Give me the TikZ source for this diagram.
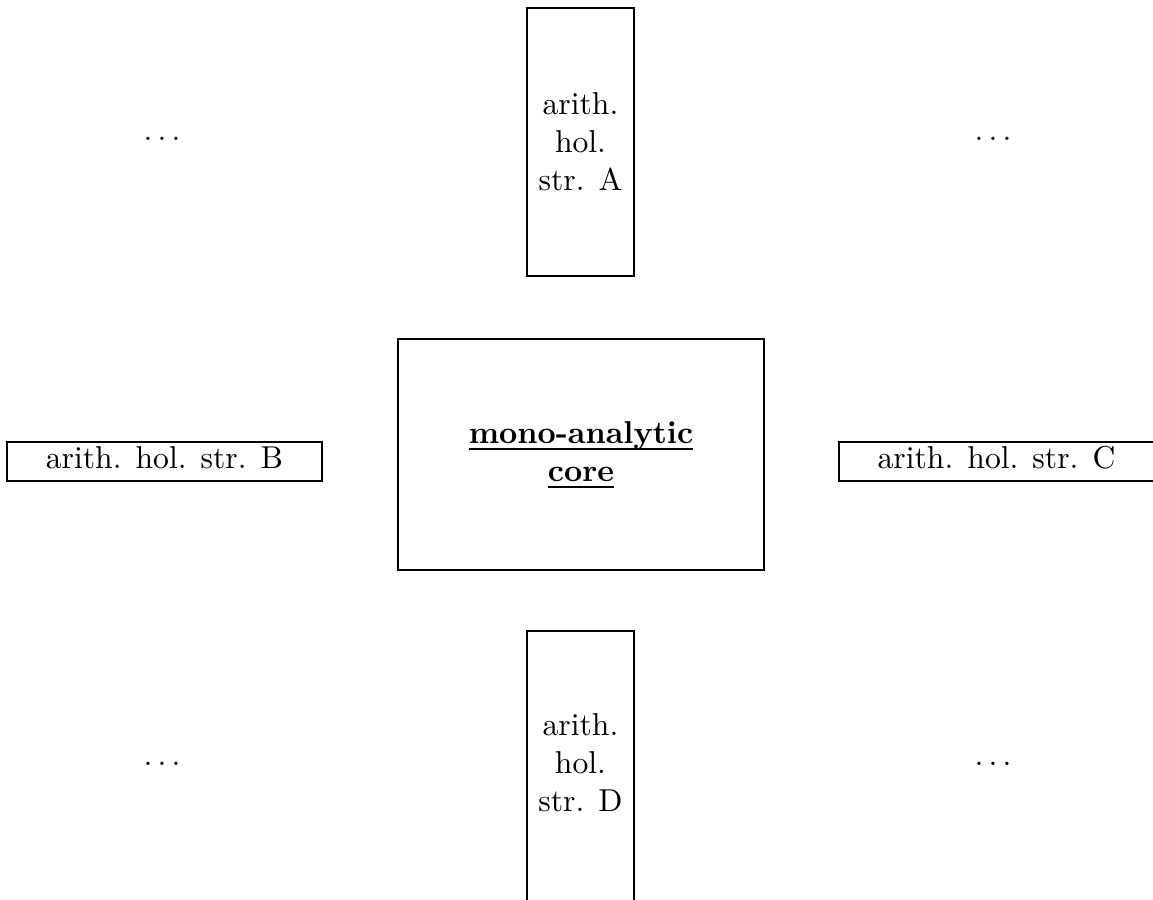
\documentclass[tikz,border=0pt]{standalone}
\newcommand\myuline[1]{\leavevmode\setbox0=\hbox{#1}\rlap{\rule[-2.05pt]{\wd0}{0.55pt}}\box0}
\begin{document}
\begin{tikzpicture}[x=0.316pt,y=-0.316pt,
  box/.style={draw, line width=0.4pt, inner sep=0pt, align=center},
  vbox/.style={box, minimum width=33.8pt, minimum height=84.7pt},
  hbox/.style={box, minimum width=99.5pt, minimum height=12.3pt, text height=7pt, text depth=2.7pt},
  dotsn/.style={anchor=base, inner sep=0pt}]
\useasboundingbox (0,0) rectangle (1153,900);
\clip (0,0) rectangle (1153,900);
\node[vbox] (A) at (580.5,142) {arith.\\hol.\\str. A};
\node[vbox, minimum height=86pt, text depth=2.6pt] (D) at (580.5,767) {arith.\\hol.\\str. D};
\node[hbox] (B) at (164.5,461.5) {arith. hol. str. B};
\node[hbox] (C) at (996.5,461.5) {arith. hol. str. C};
\node[box, minimum width=115.7pt, minimum height=73pt] (M) at (581,454.5)
  {\myuline{\textbf{mono-analytic}}\\\myuline{\textbf{core}}};
\node[dotsn] (d1) at (162,141) {$\ldots$};
\node[dotsn] (d2) at (993,141) {$\ldots$};
\node[dotsn] (d3) at (162,765) {$\ldots$};
\node[dotsn] (d4) at (993,765) {$\ldots$};
\end{tikzpicture}
\end{document}
